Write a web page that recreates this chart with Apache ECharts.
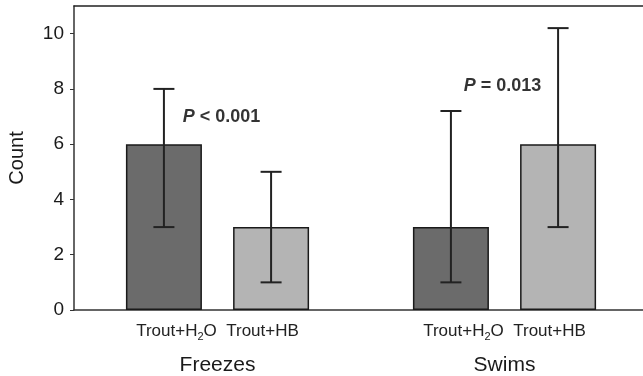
<!DOCTYPE html>
<html>
<head>
<meta charset="utf-8">
<script src="https://cdn.jsdelivr.net/npm/echarts@6/dist/echarts.min.js"></script>
<style>
  html, body { margin: 0; padding: 0; background: #fff; }
  #main { width: 643px; height: 376px; }
</style>
</head>
<body>
<div id="main"></div>
<script>
// data
var groups = ['Freezes', 'Swims'];
var h2oMean = [6, 3];
var hbMean = [3, 6];
var h2oLow = [3, 1];
var h2oHigh = [8, 7.2];
var hbLow = [1, 3];
var hbHigh = [5, 10.2];
var pText = ['{i|P} < 0.001', '{i|P} = 0.013'];
var pLevel = [7, 8.1];

var barW = 76;
var gapPct = 41;
var shift = (barW + barW * gapPct / 100) / 2;

var chartDom = document.getElementById('main');
var myChart = echarts.init(chartDom);

function errData(low, high) {
  var out = [];
  for (var i = 0; i < groups.length; i++) {
    out.push([i, low[i], high[i]]);
  }
  return out;
}

function errRender(dx) {
  return function (params, api) {
    var c = api.value(0);
    var lo = api.coord([c, api.value(1)]);
    var hi = api.coord([c, api.value(2)]);
    var x = lo[0] + dx;
    var cap = 10.5;
    var st = { stroke: '#222', lineWidth: 2 };
    return {
      type: 'group',
      children: [
        { type: 'line', shape: { x1: x, y1: lo[1], x2: x, y2: hi[1] }, style: st },
        { type: 'line', shape: { x1: x - cap, y1: lo[1], x2: x + cap, y2: lo[1] }, style: st },
        { type: 'line', shape: { x1: x - cap, y1: hi[1], x2: x + cap, y2: hi[1] }, style: st }
      ]
    };
  };
}

// the P labels sit a little off the group centre in the figure
var pData = [];
for (var i = 0; i < groups.length; i++) {
  pData.push({
    value: [groups[i], pLevel[i]],
    label: { formatter: pText[i], offset: i === 0 ? [4, 0] : [-2, 0] }
  });
}

var option = {
  animation: false,
  textStyle: { fontFamily: 'Liberation Sans, Arial, sans-serif' },
  grid: { left: 74, top: 6, bottom: 66, width: 574, outerBoundsMode: 'none' },
  xAxis: [
    {
      type: 'category',
      data: groups,
      axisLine: { lineStyle: { color: '#333', width: 1.5 } },
      axisTick: { show: false },
      axisLabel: {
        margin: 10,
        interval: 0,
        formatter: function (v) {
          return '{a|Trout+H}{s|2}{a|O  Trout+HB}\n{g|' + v + '}';
        },
        rich: {
          a: { fontSize: 17, color: '#222', lineHeight: 22, fontFamily: 'Liberation Sans' },
          s: { fontSize: 11, color: '#222', lineHeight: 11, verticalAlign: 'bottom', fontFamily: 'Liberation Sans' },
          g: { fontSize: 21, color: '#1a1a1a', lineHeight: 46, fontFamily: 'Liberation Sans' }
        }
      }
    },
    {
      type: 'category',
      data: groups,
      position: 'top',
      axisLine: { lineStyle: { color: '#222', width: 1.5 } },
      axisTick: { show: false },
      axisLabel: { show: false }
    }
  ],
  yAxis: {
    type: 'value',
    min: 0,
    max: 11,
    interval: 2,
    name: 'Count',
    nameLocation: 'middle',
    nameGap: 47,
    nameTextStyle: { fontSize: 20, color: '#1a1a1a', fontFamily: 'Liberation Sans' },
    splitLine: { show: false },
    axisLine: { show: true, lineStyle: { color: '#333', width: 1.5 } },
    axisTick: { show: true, length: 4, inside: false, lineStyle: { color: '#333' } },
    axisLabel: { fontSize: 19, color: '#1a1a1a', margin: 10, showMaxLabel: false }
  },
  series: [
    {
      name: 'Trout+H2O',
      type: 'bar',
      data: h2oMean,
      barWidth: barW,
      barGap: gapPct + '%',
      itemStyle: { color: '#6b6b6b', borderColor: '#1a1a1a', borderWidth: 1.5 }
    },
    {
      name: 'Trout+HB',
      type: 'bar',
      data: hbMean,
      barWidth: barW,
      barGap: gapPct + '%',
      itemStyle: { color: '#b4b4b4', borderColor: '#1a1a1a', borderWidth: 1.5 }
    },
    {
      type: 'custom',
      renderItem: errRender(-shift),
      encode: { x: 0, y: [1, 2] },
      data: errData(h2oLow, h2oHigh),
      z: 5
    },
    {
      type: 'custom',
      renderItem: errRender(shift),
      encode: { x: 0, y: [1, 2] },
      data: errData(hbLow, hbHigh),
      z: 5
    },
    {
      type: 'scatter',
      symbolSize: 0,
      data: pData,
      z: 6,
      label: {
        show: true,
        position: 'inside',
        color: '#000',
        fontSize: 18,
        fontWeight: 'bold',
        rich: {
          i: { fontSize: 18, fontWeight: 'bold', fontStyle: 'italic', color: '#000' }
        }
      }
    }
  ]
};

myChart.setOption(option);
</script>
</body>
</html>
